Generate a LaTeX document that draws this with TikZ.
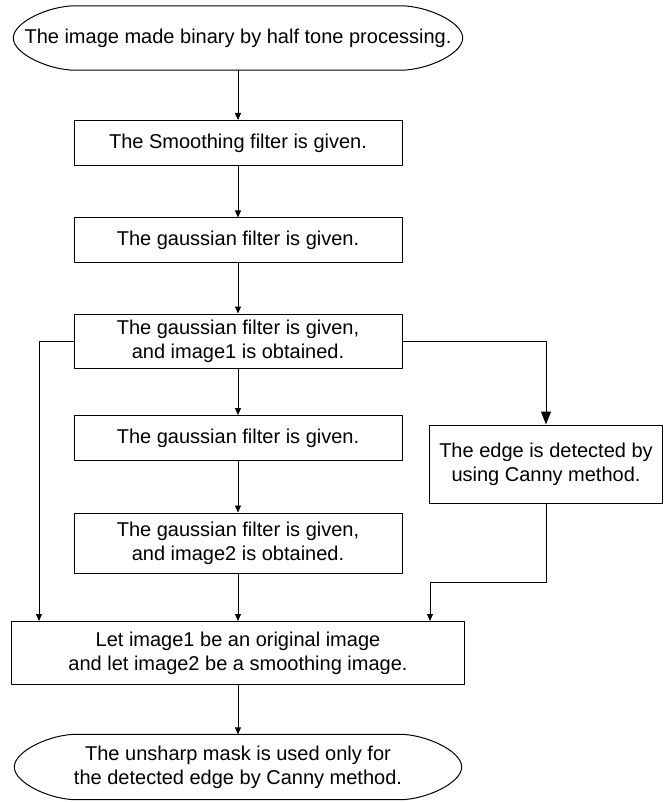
\documentclass[tikz,border=0pt]{standalone}
\usepackage{fontspec}
\setmainfont{Liberation Sans}
\usetikzlibrary{arrows.meta}

\tikzset{
  box/.style={draw,line width=1pt,rectangle,align=center,minimum width=328pt,inner sep=2pt},
  terminal/.style={rectangle,align=center,inner sep=0pt},
  arr/.style={line width=1pt,-{Triangle[length=7pt,width=6pt]}},
  bigarr/.style={line width=1pt,-{Triangle[length=13pt,width=10pt]}}
}
% outline of a start / end node
\newcommand{\termoutline}[1]{%
\draw [line width=1pt] ([xshift=62pt]#1.north west) -- ([xshift=-62pt]#1.north east)
  .. controls ([xshift=-36pt]#1.north east) and ([yshift=16pt]#1.east) .. (#1.east)
  .. controls ([yshift=-16pt]#1.east) and ([xshift=-36pt]#1.south east) .. ([xshift=-62pt]#1.south east)
  -- ([xshift=62pt]#1.south west)
  .. controls ([xshift=36pt]#1.south west) and ([yshift=-16pt]#1.west) .. (#1.west)
  .. controls ([yshift=16pt]#1.west) and ([xshift=36pt]#1.north west) .. cycle;}

\begin{document}
\begin{tikzpicture}[line cap=round,line join=round,x=1pt,y=-1pt,font=\fontsize{20}{24}\selectfont]
\useasboundingbox (0,0) rectangle (669,802);

\node [terminal,minimum width=449pt,minimum height=64pt] (start) at (238,38) {The image made binary by half tone processing.};
\termoutline{start}
\node [box,minimum height=45pt] (smooth) at (238,143) {The Smoothing filter is given.};
\node [box,minimum height=44pt] (gaussA) at (238,240) {The gaussian filter is given.};
\node [box,minimum height=54pt] (gaussB) at (238,341) {The gaussian filter is given,\\and image1 is obtained.};
\node [box,minimum height=45pt] (gaussC) at (238,438) {The gaussian filter is given.};
\node [box,minimum height=60pt] (gaussD) at (238,543) {The gaussian filter is given,\\and image2 is obtained.};
\node [box,minimum width=233pt,minimum height=78pt] (canny) at (546,464) {The edge is detected by\\using Canny method.};
\node [box,minimum width=453pt,minimum height=63pt] (merge) at (238,653) {Let image1 be an original image\\and let image2 be a smoothing image.};
\node [terminal,minimum width=447pt,minimum height=65pt] (finish) at (238,767) {The unsharp mask is used only for\\the detected edge by Canny method.};
\termoutline{finish}

\draw [arr] (start) -- (smooth);
\draw [arr] (smooth) -- (gaussA);
\draw [arr] (gaussA) -- (gaussB);
\draw [arr] (gaussB) -- (gaussC);
\draw [arr] (gaussC) -- (gaussD);
\draw [arr] (gaussD) -- (merge);
\draw [arr] (merge) -- (finish);

\draw [arr] (gaussB.west) -| ([xshift=28pt]merge.north west);
\draw [bigarr] (gaussB.east) -| (canny.north);
\draw [arr] (canny.south) -- ++(0,79) -| ([xshift=-35pt]merge.north east);
\end{tikzpicture}
\end{document}
